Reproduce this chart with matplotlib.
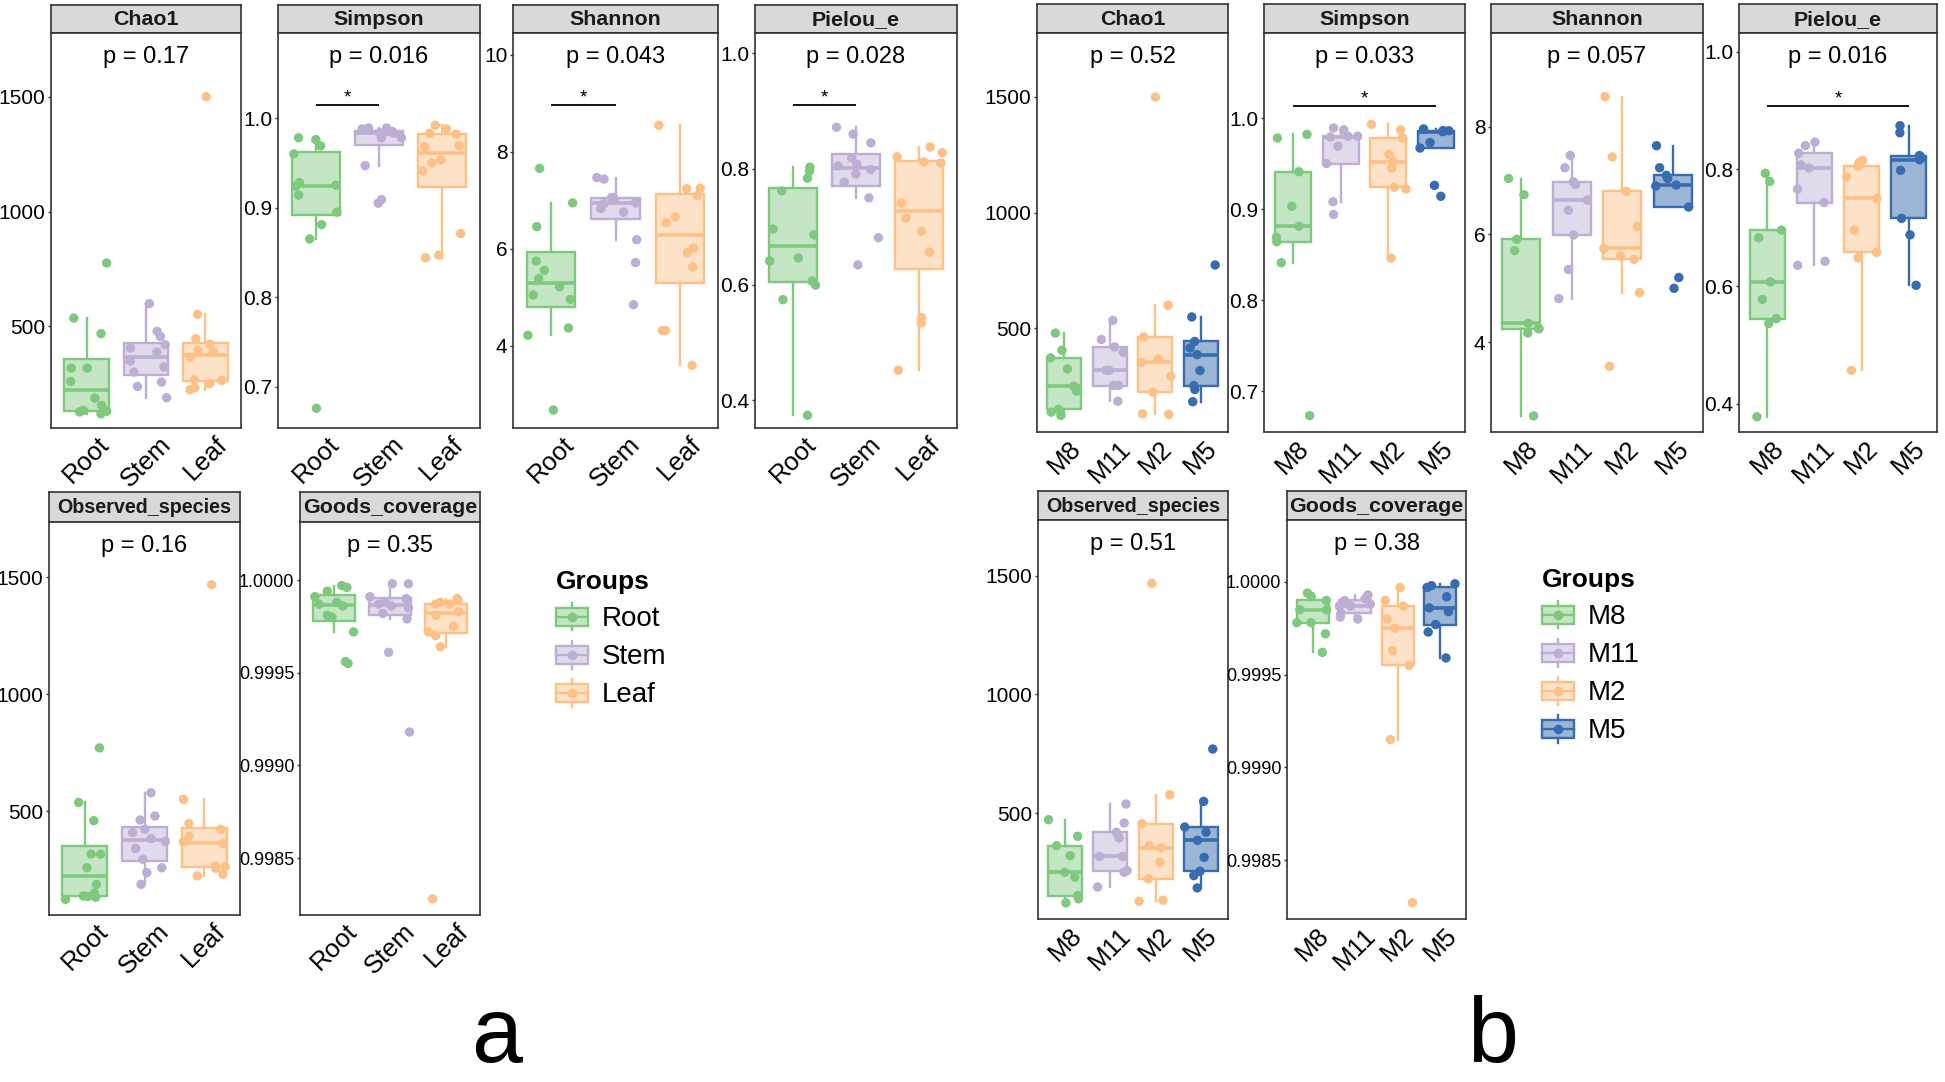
import numpy as np
import matplotlib
matplotlib.use('Agg')
import matplotlib.pyplot as plt
from matplotlib.patches import Rectangle, Patch
from matplotlib.lines import Line2D
from matplotlib.legend_handler import HandlerBase
from matplotlib.colors import to_rgba
from matplotlib.transforms import blended_transform_factory

plt.rcParams['font.family'] = ['Liberation Sans', 'DejaVu Sans']

W, H, DPI = 1945, 1082, 100

# ---------------- data ----------------
groups_a = ['Root', 'Stem', 'Leaf']
groups_b = ['M8', 'M11', 'M2', 'M5']
colors_a = ['#7FC97F', '#BEAED4', '#FDC086']
colors_b = ['#7FC97F', '#BEAED4', '#FDC086', '#386CB0']

metrics = ['Chao1', 'Simpson', 'Shannon', 'Pielou_e', 'Observed_species', 'Goods_coverage']

chao1_a = [[776, 536, 468, 318, 318, 260, 187, 155, 134, 130, 119, 127],
           [599, 478, 456, 420, 406, 388, 349, 323, 301, 257, 238, 189],
           [1500, 552, 446, 422, 395, 388, 366, 267, 264, 250, 233, 224]]
simpson_a = [[0.978, 0.976, 0.969, 0.960, 0.928, 0.925, 0.924, 0.914, 0.895, 0.881, 0.865, 0.676],
             [0.989, 0.989, 0.988, 0.985, 0.985, 0.984, 0.983, 0.978, 0.978, 0.947, 0.909, 0.905],
             [0.992, 0.988, 0.983, 0.982, 0.969, 0.968, 0.953, 0.950, 0.941, 0.871, 0.847, 0.844]]
shannon_a = [[7.66, 6.95, 6.46, 5.75, 5.56, 5.39, 5.22, 5.05, 4.96, 4.37, 4.22, 2.68],
             [7.47, 7.44, 7.06, 7.06, 7.00, 6.95, 6.93, 6.83, 6.76, 6.19, 5.72, 4.85],
             [8.55, 7.25, 7.24, 7.10, 6.66, 6.54, 6.02, 5.92, 5.63, 4.32, 4.32, 3.60]]
pielou_a = [[0.803, 0.796, 0.784, 0.762, 0.696, 0.686, 0.646, 0.641, 0.606, 0.599, 0.574, 0.374],
            [0.872, 0.860, 0.845, 0.819, 0.808, 0.805, 0.799, 0.791, 0.777, 0.750, 0.681, 0.634],
            [0.838, 0.828, 0.821, 0.812, 0.810, 0.741, 0.715, 0.692, 0.656, 0.543, 0.534, 0.452]]
observed_a = [[770, 537, 459, 316, 316, 258, 187, 149, 137, 135, 132, 123],
              [578, 479, 462, 422, 408, 382, 370, 340, 294, 258, 237, 187],
              [1467, 550, 447, 422, 393, 369, 362, 265, 262, 255, 230, 223]]
goods_a = [[0.99997, 0.99996, 0.99994, 0.99991, 0.99988, 0.99987, 0.99986, 0.99981, 0.99980, 0.99972, 0.99956, 0.99955],
           [0.99998, 0.99998, 0.99991, 0.99990, 0.99988, 0.99987, 0.99986, 0.99985, 0.99982, 0.99979, 0.99961, 0.99918],
           [0.99990, 0.99989, 0.99988, 0.99987, 0.99987, 0.99983, 0.99981, 0.99975, 0.99972, 0.99970, 0.99964, 0.99828]]

chao1_b = [[478, 404, 371, 323, 248, 227, 148, 136, 122],
           [533, 450, 418, 395, 317, 317, 251, 251, 183],
           [1500, 598, 461, 366, 352, 291, 222, 129, 126],
           [773, 548, 442, 414, 385, 316, 251, 234, 181]]
simpson_b = [[0.982, 0.978, 0.941, 0.903, 0.881, 0.869, 0.864, 0.841, 0.673],
             [0.989, 0.987, 0.980, 0.980, 0.979, 0.969, 0.950, 0.908, 0.894],
             [0.993, 0.987, 0.978, 0.960, 0.952, 0.945, 0.924, 0.922, 0.846],
             [0.988, 0.986, 0.986, 0.986, 0.985, 0.973, 0.967, 0.926, 0.914]]
shannon_b = [[7.04, 6.74, 5.91, 5.70, 4.35, 4.25, 4.25, 4.17, 2.63],
             [7.47, 7.24, 6.98, 6.93, 6.64, 6.45, 5.99, 5.35, 4.81],
             [8.56, 7.44, 6.80, 6.15, 5.74, 5.60, 5.54, 4.92, 3.55],
             [7.65, 7.24, 7.10, 7.04, 6.92, 6.90, 6.51, 5.20, 5.00]]
pielou_b = [[0.793, 0.779, 0.696, 0.683, 0.608, 0.578, 0.545, 0.537, 0.378],
            [0.846, 0.840, 0.827, 0.807, 0.802, 0.766, 0.743, 0.643, 0.636],
            [0.815, 0.811, 0.805, 0.787, 0.750, 0.696, 0.658, 0.649, 0.457],
            [0.874, 0.862, 0.823, 0.822, 0.816, 0.798, 0.716, 0.688, 0.602]]
observed_b = [[472, 402, 362, 320, 250, 229, 152, 138, 121],
              [538, 458, 419, 395, 317, 317, 257, 250, 188],
              [1469, 577, 455, 362, 353, 292, 222, 132, 128],
              [770, 549, 441, 419, 385, 313, 254, 236, 184]]
goods_b = [[0.99994, 0.99992, 0.99990, 0.99985, 0.99985, 0.99978, 0.99978, 0.99972, 0.99962],
           [0.99993, 0.99991, 0.99990, 0.99988, 0.99987, 0.99987, 0.99983, 0.99981, 0.99980],
           [0.99997, 0.99990, 0.99987, 0.99980, 0.99975, 0.99963, 0.99955, 0.99915, 0.99827],
           [0.99999, 0.99998, 0.99997, 0.99992, 0.99986, 0.99984, 0.99977, 0.99973, 0.99959]]

pvals_a = ['0.17', '0.016', '0.043', '0.028', '0.16', '0.35']
pvals_b = ['0.52', '0.033', '0.057', '0.016', '0.51', '0.38']
sig_a = {'Simpson': ('Root', 'Stem'), 'Shannon': ('Root', 'Stem'), 'Pielou_e': ('Root', 'Stem')}
sig_b = {'Simpson': ('M8', 'M5'), 'Pielou_e': ('M8', 'M5')}

yticks = {'Chao1': [500, 1000, 1500], 'Simpson': [0.7, 0.8, 0.9, 1.0],
          'Shannon': [4, 6, 8, 10], 'Pielou_e': [0.4, 0.6, 0.8, 1.0],
          'Observed_species': [500, 1000, 1500], 'Goods_coverage': [0.9985, 0.9990, 0.9995, 1.0000]}
yfmt = {'Chao1': '{:.0f}', 'Simpson': '{:.1f}', 'Shannon': '{:.0f}', 'Pielou_e': '{:.1f}',
        'Observed_species': '{:.0f}', 'Goods_coverage': '{:.4f}'}

ylims_a = {'Chao1': (57, 1778), 'Simpson': (0.654, 1.095), 'Shannon': (2.31, 10.45),
           'Pielou_e': (0.352, 1.035), 'Observed_species': (56, 1735),
           'Goods_coverage': (0.998193, 1.000313)}
ylims_b = {'Chao1': (50, 1777), 'Simpson': (0.655, 1.0934), 'Shannon': (2.33, 9.744),
           'Pielou_e': (0.352, 1.032), 'Observed_species': (53, 1736),
           'Goods_coverage': (0.998182, 1.000334)}

# ---------------- layout (pixels: x0, x1, strip_top, plot_top, plot_bottom) ----------------
layout_a = {'Chao1': (51, 241, 5, 33, 428), 'Simpson': (278, 480, 5, 33, 428),
            'Shannon': (513, 718, 5, 33, 428), 'Pielou_e': (755, 957, 5, 33, 428),
            'Observed_species': (49, 240, 492, 522, 915), 'Goods_coverage': (300, 480, 492, 522, 915)}
layout_b = {'Chao1': (1037, 1228, 4, 33, 432), 'Simpson': (1264, 1465, 4, 33, 432),
            'Shannon': (1491, 1703, 4, 33, 432), 'Pielou_e': (1739, 1937, 4, 33, 432),
            'Observed_species': (1038, 1228, 491, 520, 919), 'Goods_coverage': (1287, 1466, 491, 520, 919)}

FRAME = '#333333'

fig = plt.figure(figsize=(W / DPI, H / DPI), dpi=DPI)


def px_rect(x0, x1, yt, yb):
    return [x0 / W, 1 - yb / H, (x1 - x0) / W, (yb - yt) / H]


def draw_panel(metric, data, groups, colors, pval, sig, ylim, lay, seed):
    x0, x1, st, pt, pb = lay
    # strip
    axs = fig.add_axes(px_rect(x0, x1, st, pt))
    axs.set_facecolor('#D9D9D9')
    axs.set_xticks([]); axs.set_yticks([])
    for s in axs.spines.values():
        s.set_color(FRAME); s.set_linewidth(1.2)
    fs_strip = 14.2 if metric == 'Observed_species' else 15.4
    axs.text(0.5, 0.47, metric, transform=axs.transAxes, ha='center', va='center',
             fontsize=fs_strip, fontweight='bold', color='#1a1a1a')

    ax = fig.add_axes(px_rect(x0, x1, pt, pb))
    n = len(groups)
    pos = np.arange(1, n + 1)
    bp = ax.boxplot(data, positions=pos, widths=0.75, patch_artist=True, showfliers=False,
                    showcaps=False, whis=1.5, zorder=2)
    for i, c in enumerate(colors):
        bp['boxes'][i].set_facecolor(to_rgba(c, 0.45 if c != '#386CB0' else 0.5))
        bp['boxes'][i].set_edgecolor(c)
        bp['boxes'][i].set_linewidth(1.7)
        bp['medians'][i].set_color(c)
        bp['medians'][i].set_linewidth(2.6)
        for w in bp['whiskers'][2 * i:2 * i + 2]:
            w.set_color(c); w.set_linewidth(1.7)
    rng = np.random.default_rng(seed)
    for i, (vals, c) in enumerate(zip(data, colors)):
        jit = rng.uniform(-0.37, 0.37, len(vals))
        ax.scatter(pos[i] + jit, vals, s=46, color=c, edgecolors='none', zorder=3)

    ax.set_xlim(0.4, n + 0.6)
    ticks = [t for t in yticks[metric] if ylim[0] <= t <= ylim[1]]
    ax.set_yticks(ticks)
    ax.set_yticklabels([yfmt[metric].format(v) for v in ticks])
    ax.set_ylim(*ylim)
    fs_y = 13 if metric == 'Goods_coverage' else 15
    ax.tick_params(axis='y', length=2.5, width=1.0, color=FRAME, pad=1.5, labelsize=fs_y,
                   labelcolor='black')
    ax.set_xticks(pos)
    ax.set_xticklabels(groups, rotation=45, ha='center', va='top', fontsize=18.5)
    ax.tick_params(axis='x', length=0, pad=3)
    for s in ax.spines.values():
        s.set_color(FRAME); s.set_linewidth(1.2)

    ax.text(0.5, 0.94, 'p = ' + pval, transform=ax.transAxes, ha='center', va='center',
            fontsize=17)
    if sig is not None:
        g1, g2 = sig
        xa, xb = pos[groups.index(g1)], pos[groups.index(g2)]
        tr = blended_transform_factory(ax.transData, ax.transAxes)
        ax.plot([xa, xb], [0.818, 0.818], color='black', lw=1.3, transform=tr,
                solid_capstyle='butt', clip_on=False)
        ax.text((xa + xb) / 2, 0.823, '*', transform=tr, ha='center', va='baseline',
                fontsize=13.5)
    return ax


data_a = [chao1_a, simpson_a, shannon_a, pielou_a, observed_a, goods_a]
data_b = [chao1_b, simpson_b, shannon_b, pielou_b, observed_b, goods_b]

for k, m in enumerate(metrics):
    draw_panel(m, data_a[k], groups_a, colors_a, pvals_a[k], sig_a.get(m), ylims_a[m],
               layout_a[m], 10 + k)
    draw_panel(m, data_b[k], groups_b, colors_b, pvals_b[k], sig_b.get(m), ylims_b[m],
               layout_b[m], 30 + k)


class BoxKeyHandler(HandlerBase):
    def create_artists(self, legend, orig_handle, xdescent, ydescent, width, height,
                       fontsize, trans):
        ec = orig_handle.get_edgecolor()
        fc = orig_handle.get_facecolor()
        x0, y0 = -xdescent, -ydescent
        cx = x0 + width / 2
        b0, b1 = y0 + 0.17 * height, y0 + 0.83 * height
        arts = [Rectangle((x0, b0), width, b1 - b0, facecolor=fc, edgecolor=ec, lw=1.7,
                          transform=trans),
                Line2D([cx, cx], [y0, b0], color=ec, lw=1.7, transform=trans),
                Line2D([cx, cx], [b1, y0 + height], color=ec, lw=1.7, transform=trans),
                Line2D([x0, x0 + width], [y0 + height / 2] * 2, color=ec, lw=1.7,
                       transform=trans),
                Line2D([cx], [y0 + height / 2], marker='o', ms=6, color=ec, ls='none',
                       transform=trans)]
        return arts


def add_legend(groups, colors, x, y):
    handles = [Patch(facecolor=to_rgba(c, 0.45 if c != '#386CB0' else 0.5), edgecolor=c)
               for c in colors]
    leg = fig.legend(handles, groups, loc='upper left', bbox_to_anchor=(x / W, 1 - y / H),
                     frameon=False, fontsize=20, title='Groups',
                     title_fontproperties={'weight': 'bold', 'size': 19},
                     handler_map={Patch: BoxKeyHandler()}, handlelength=1.15,
                     handleheight=1.15, handletextpad=0.5, labelspacing=0.32,
                     borderpad=0, borderaxespad=0, alignment='left')
    return leg


add_legend(groups_a, colors_a, 556, 570)
add_legend(groups_b, colors_b, 1542, 568)

fig.text(497 / W, 1 / H, 'a', fontsize=66, ha='center', va='bottom')
fig.text(1493 / W, 1 / H, 'b', fontsize=66, ha='center', va='bottom')

fig.savefig('out.png', dpi=DPI)
